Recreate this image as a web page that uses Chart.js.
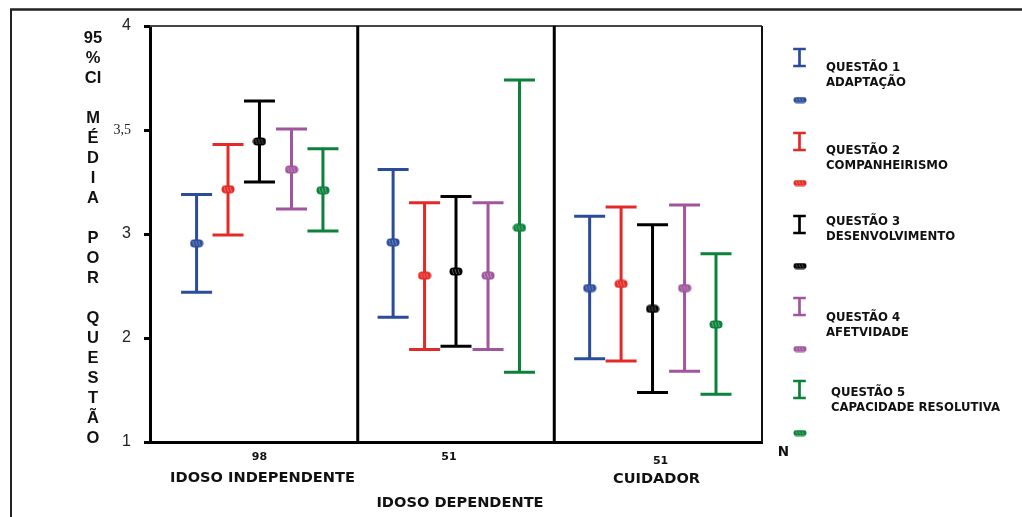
<!DOCTYPE html>
<html>
<head>
<meta charset="utf-8">
<script src="https://cdn.jsdelivr.net/npm/chart.js@4.4.0/dist/chart.umd.min.js"></script>
<style>
  html, body { margin: 0; padding: 0; background: #fff; }
  #wrap { width: 1022px; height: 517px; }
</style>
</head>
<body>
<div id="wrap"><canvas id="myChart" width="1022" height="517"></canvas></div>
<script>
// grupos e N de cada grupo
const groups = ['IDOSO INDEPENDENTE', 'IDOSO DEPENDENTE', 'CUIDADOR'];
const groupN = ['98', '51', '51'];

const questions = ['QUESTÃO 1', 'QUESTÃO 2', 'QUESTÃO 3', 'QUESTÃO 4', 'QUESTÃO 5'];
const questionNames = ['ADAPTAÇÃO', 'COMPANHEIRISMO', 'DESENVOLVIMENTO', 'AFETVIDADE', 'CAPACIDADE RESOLUTIVA'];

// média e IC 95% por questão (uma posição por grupo)
const q1Mean = [2.91, 2.92, 2.48];
const q1Low  = [2.44, 2.20, 1.80];
const q1High = [3.19, 3.31, 3.085];

const q2Mean = [3.215, 2.60, 2.52];
const q2Low  = [2.99, 1.89, 1.78];
const q2High = [3.43, 3.15, 3.13];

const q3Mean = [3.445, 2.64, 2.28];
const q3Low  = [3.25, 1.92, 1.475];
const q3High = [3.64, 3.18, 3.045];

const q4Mean = [3.31, 2.60, 2.48];
const q4Low  = [3.12, 1.89, 1.68];
const q4High = [3.505, 3.15, 3.14];

const q5Mean = [3.21, 3.03, 2.13];
const q5Low  = [3.015, 1.67, 1.46];
const q5High = [3.41, 3.74, 2.81];

const yTicks = [1, 2, 3, 3.5, 4];
const yTickLabels = ['1', '2', '3', '3,5', '4'];

// o eixo original é comprimido acima de 3 (3 -> 3,5 -> 4 com o mesmo passo que 1 -> 2)
function toPos(v) { return v <= 3 ? v : 3 + (v - 3) * 2; }

const colors = ['#2b4c9b', '#e42a27', '#000000', '#a0559c', '#0b8139'];
const offsets = [-0.32, -0.16, 0, 0.163, 0.323];

const series = [
  { mean: q1Mean, low: q1Low, high: q1High },
  { mean: q2Mean, low: q2Low, high: q2High },
  { mean: q3Mean, low: q3Low, high: q3High },
  { mean: q4Mean, low: q4Low, high: q4High },
  { mean: q5Mean, low: q5Low, high: q5High },
];

function marker(color, w, h) {
  const c = document.createElement('canvas');
  c.width = w; c.height = h;
  const g = c.getContext('2d');
  g.fillStyle = color;
  g.beginPath();
  g.roundRect(0.5, 0.5, w - 1, h - 1, h / 2 - 0.5);
  g.fill();
  g.strokeStyle = 'rgba(255,255,255,0.35)';
  g.lineWidth = 1;
  g.beginPath();
  for (let x = 3; x < w - 2; x += 3) { g.moveTo(x, 2); g.lineTo(x + 1.5, h - 2); }
  g.stroke();
  return c;
}

const errorBars = {
  id: 'errorBars',
  beforeDraw(chart) {
    const ctx = chart.ctx;
    ctx.save();
    ctx.strokeStyle = '#222';
    ctx.lineWidth = 2.5;
    ctx.beginPath(); ctx.moveTo(10, 9.5); ctx.lineTo(1022, 9.5); ctx.stroke();
    ctx.lineWidth = 2;
    ctx.beginPath(); ctx.moveTo(11, 9); ctx.lineTo(11, 517); ctx.stroke();
    ctx.restore();
  },
  beforeDatasetsDraw(chart) {
    const { ctx, chartArea: a, scales: { x, y } } = chart;
    ctx.save();
    ctx.strokeStyle = '#444';
    ctx.lineWidth = 2;
    ctx.beginPath(); ctx.moveTo(a.left, a.top); ctx.lineTo(a.right, a.top); ctx.stroke();
    ctx.strokeStyle = '#111';
    ctx.beginPath(); ctx.moveTo(a.right, a.top); ctx.lineTo(a.right, a.bottom); ctx.stroke();
    ctx.strokeStyle = '#000';
    ctx.lineWidth = 3;
    [0.5, 1.5].forEach(v => {
      const px = x.getPixelForValue(v);
      ctx.beginPath(); ctx.moveTo(px, a.top); ctx.lineTo(px, a.bottom); ctx.stroke();
    });
    chart.data.datasets.forEach(ds => {
      ctx.strokeStyle = ds.color;
      ctx.lineWidth = 3;
      ds.data.forEach((p, j) => {
        const px = x.getPixelForValue(p.x);
        const top = y.getPixelForValue(ds.high[j]);
        const bot = y.getPixelForValue(ds.low[j]);
        ctx.beginPath();
        ctx.moveTo(px, top); ctx.lineTo(px, bot);
        ctx.moveTo(px - 15.5, top); ctx.lineTo(px + 15.5, top);
        ctx.moveTo(px - 15.5, bot); ctx.lineTo(px + 15.5, bot);
        ctx.stroke();
      });
    });
    ctx.restore();
  },
  afterDraw(chart) {
    const { ctx, scales: { x } } = chart;
    ctx.save();
    ctx.fillStyle = '#111';
    ctx.textAlign = 'center';
    ctx.textBaseline = 'middle';

    // título do eixo y, letra por letra
    const title = ['95', '%', 'CI', '', 'M', 'É', 'D', 'I', 'A', '', 'P', 'O', 'R', '', 'Q', 'U', 'E', 'S', 'T', 'Ã', 'O'];
    ctx.font = 'bold 16.5px "Liberation Sans", Arial, sans-serif';
    title.forEach((t, i) => ctx.fillText(t, 93, 38 + i * 20));

    // rótulos dos grupos
    const nY = [457, 457, 461], nDx = [0, -7, 8];
    const gY = [478, 503, 479], gDx = [3, 4, 4];
    groups.forEach((g, j) => {
      const px = x.getPixelForValue(j);
      ctx.font = 'bold 11px "DejaVu Sans", sans-serif';
      ctx.fillText(groupN[j], px + nDx[j], nY[j]);
      ctx.font = 'bold 14.6px "DejaVu Sans", sans-serif';
      ctx.fillText(g, px + gDx[j], gY[j]);
    });
    ctx.font = 'bold 13.5px "DejaVu Sans", sans-serif';
    ctx.fillText('N', 783.5, 452);

    // legenda
    const iconTop = [49, 133, 216, 298, 381];
    const textY = [68, 151, 222, 318, 393];
    const textX = [826, 826, 826, 826, 831];
    const markY = [100, 183, 266, 349, 433];
    ctx.textAlign = 'left';
    ctx.font = 'bold 11.7px "DejaVu Sans", sans-serif';
    questions.forEach((q, i) => {
      ctx.strokeStyle = colors[i];
      ctx.lineWidth = 2.7;
      const cx = 799.5, t = iconTop[i], b = iconTop[i] + 17;
      ctx.beginPath();
      ctx.moveTo(cx, t); ctx.lineTo(cx, b);
      ctx.moveTo(cx - 6.3, t); ctx.lineTo(cx + 6.3, t);
      ctx.moveTo(cx - 6.3, b); ctx.lineTo(cx + 6.3, b);
      ctx.stroke();
      ctx.drawImage(marker(colors[i], 14, 7), 793, markY[i] - 3.5);
      ctx.fillStyle = '#111';
      ctx.fillText(q, textX[i], textY[i]);
      ctx.fillText(questionNames[i], textX[i], textY[i] + 15);
    });
    ctx.restore();
  }
};

const config = {
  type: 'scatter',
  data: {
    datasets: series.map((s, i) => ({
      label: questions[i],
      data: s.mean.map((m, j) => ({ x: j + offsets[i], y: toPos(m) })),
      low: s.low.map(toPos),
      high: s.high.map(toPos),
      color: colors[i],
      pointStyle: marker(colors[i], 14, 9),
      showLine: false,
    }))
  },
  options: {
    responsive: false,
    animation: false,
    events: [],
    layout: { padding: { left: 0, top: 26, right: 260, bottom: 0 }, autoPadding: false },
    plugins: { legend: { display: false }, tooltip: { enabled: false } },
    scales: {
      x: {
        type: 'linear', min: -0.557, max: 2.557,
        afterFit: s => { s.height = 75; },
        ticks: { display: false },
        grid: { display: false },
        border: { display: true, color: '#000', width: 3 }
      },
      y: {
        type: 'linear', min: 1, max: 5,
        afterFit: s => { s.width = 150; },
        afterBuildTicks: s => { s.ticks = yTicks.map(v => ({ value: toPos(v) })); },
        ticks: {
          color: '#222',
          padding: 13,
          font: c => (c.tick && c.tick.value === toPos(3.5))
            ? { family: '"Liberation Serif", "Times New Roman", serif', size: 14 }
            : { family: '"Liberation Sans", Arial, sans-serif', size: 16 },
          callback: v => {
            const i = yTicks.findIndex(t => toPos(t) === v);
            return i >= 0 ? yTickLabels[i] : '';
          }
        },
        grid: { drawOnChartArea: false, drawTicks: true, tickLength: 6, tickWidth: 3, tickColor: '#000' },
        border: { display: true, color: '#000', width: 3 }
      }
    }
  },
  plugins: [errorBars]
};

new Chart(document.getElementById('myChart'), config);
</script>
</body>
</html>
